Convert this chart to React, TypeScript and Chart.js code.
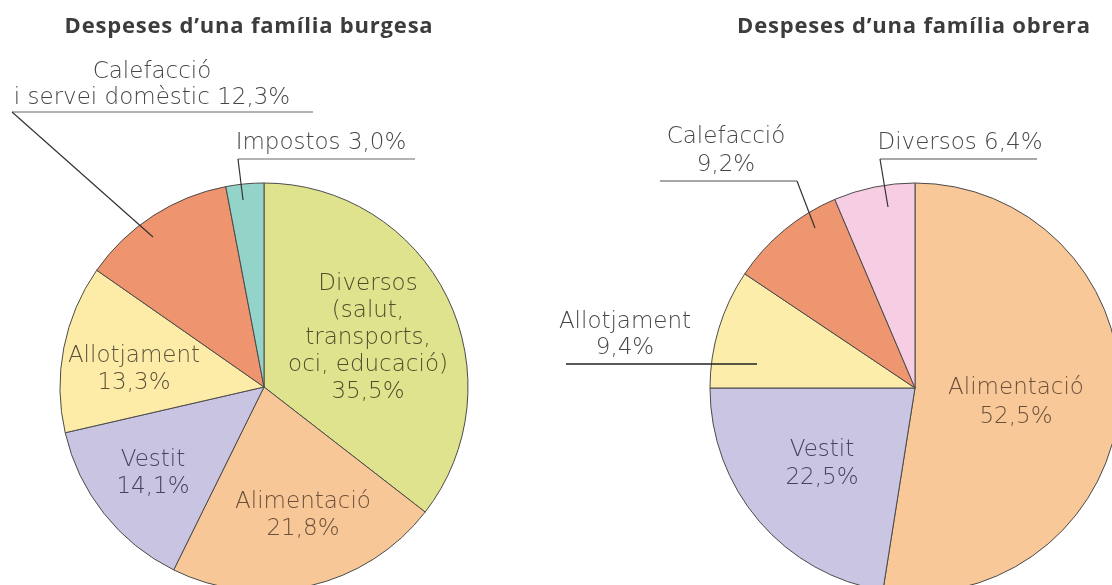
import React, { useEffect, useRef } from "react";
import { Chart, registerables } from "chart.js";

Chart.register(...registerables);

// ---------- DATA ----------
const burgesaTitle = "Despeses d’una família burgesa";
const burgesaLabelLines = [
  ["Diversos", "(salut,", "transports,", "oci, educació)"],
  ["Alimentació"],
  ["Vestit"],
  ["Allotjament"],
  ["Calefacció", "i servei domèstic"],
  ["Impostos"],
];
const burgesaValues = [35.5, 21.8, 14.1, 13.3, 12.3, 3.0];
const burgesaColors = ["#dfe38d", "#f8c797", "#c8c4e2", "#fdeca8", "#ee946f", "#93d3c8"];

const obreraTitle = "Despeses d’una família obrera";
const obreraLabelLines = [
  ["Alimentació"],
  ["Vestit"],
  ["Allotjament"],
  ["Calefacció"],
  ["Diversos"],
];
const obreraValues = [52.5, 22.5, 9.4, 9.2, 6.4];
const obreraColors = ["#f8c898", "#c9c5e2", "#fdedaa", "#ee9670", "#f6cde2"];

// ---------- LABEL LAYOUT (relative to pie centre) ----------
type Note = {
  index: number;
  inline?: boolean;
  dx: number;
  dy: number;
  lh: number;
  color: string;
  underline?: [number, number, number, string];
  leader?: [number, number, number, number];
};

const burgesaNotes: Note[] = [
  { index: 0, dx: 104, dy: -103, lh: 27, color: "#4e4e2c" },
  { index: 1, dx: 39, dy: 115, lh: 27, color: "#6a503a" },
  { index: 2, dx: -111, dy: 73, lh: 27, color: "#47435e" },
  { index: 3, dx: -130, dy: -31, lh: 27, color: "#5a533a" },
  {
    index: 4, inline: true, dx: -112, dy: -315, lh: 26, color: "#474747",
    underline: [-252, 49, -275, "#9a9a9a"], leader: [-252, -275, -111, -150],
  },
  {
    index: 5, inline: true, dx: 57, dy: -244, lh: 26, color: "#474747",
    underline: [-26, 151, -228, "#9a9a9a"], leader: [-26, -228, -21, -187],
  },
];

const obreraNotes: Note[] = [
  { index: 0, dx: 101, dy: 0, lh: 29, color: "#6a503a" },
  { index: 1, dx: -93, dy: 62, lh: 28, color: "#47435e" },
  {
    index: 2, dx: -290, dy: -66, lh: 26, color: "#474747",
    underline: [-349, -158, -24, "#222222"],
  },
  {
    index: 3, dx: -189, dy: -251, lh: 28, color: "#474747",
    underline: [-255, -118, -207, "#8a8a8a"], leader: [-118, -207, -100, -160],
  },
  {
    index: 4, inline: true, dx: 45, dy: -245, lh: 26, color: "#474747",
    underline: [-35, 122, -229, "#8a8a8a"], leader: [-35, -229, -27, -181],
  },
];

const fmt = (v: number) => v.toFixed(1).replace(".", ",") + "%";

const LABEL_FONT = "300 23px 'DejaVu Sans'";
const TITLE_FONT = "bold 22px 'Open Sans'";

const notesPlugin = {
  id: "pieNotes",
  afterDraw(chart: any, _args: any, opts: any) {
    const arc = chart.getDatasetMeta(0).data[0];
    if (!arc) return;
    const cx = arc.x;
    const cy = arc.y;
    const ctx = chart.ctx as CanvasRenderingContext2D;
    const values: number[] = chart.data.datasets[0].data;
    ctx.save();
    ctx.textAlign = "center";
    ctx.textBaseline = "middle";
    ctx.font = TITLE_FONT;
    (ctx as any).letterSpacing = "0.8px";
    ctx.fillStyle = "#3c3c3c";
    ctx.fillText(opts.title, cx + opts.titleDx, cy + opts.titleDy);
    (ctx as any).letterSpacing = "0px";

    ctx.font = LABEL_FONT;
    for (const n of opts.notes as Note[]) {
      const base = opts.labelLines[n.index] as string[];
      const lines = n.inline
        ? [...base.slice(0, -1), base[base.length - 1] + " " + fmt(values[n.index])]
        : [...base, fmt(values[n.index])];
      ctx.fillStyle = n.color;
      lines.forEach((t, i) => ctx.fillText(t, cx + n.dx, cy + n.dy + i * n.lh));
      if (n.underline) {
        const [x1, x2, y, col] = n.underline;
        ctx.strokeStyle = col;
        ctx.lineWidth = 1.5;
        ctx.beginPath();
        ctx.moveTo(cx + x1, cy + y);
        ctx.lineTo(cx + x2, cy + y);
        ctx.stroke();
      }
      if (n.leader) {
        const [x1, y1, x2, y2] = n.leader;
        ctx.strokeStyle = "#333333";
        ctx.lineWidth = 1.2;
        ctx.beginPath();
        ctx.moveTo(cx + x1, cy + y1);
        ctx.lineTo(cx + x2, cy + y2);
        ctx.stroke();
      }
    }
    ctx.restore();
  },
};

function PieCanvas(props: {
  left: number;
  width: number;
  height: number;
  padding: { left: number; right: number; top: number; bottom: number };
  values: number[];
  colors: string[];
  labelLines: string[][];
  notes: Note[];
  title: string;
  titleDx: number;
  titleDy: number;
}) {
  const ref = useRef<HTMLCanvasElement | null>(null);
  useEffect(() => {
    if (!ref.current) return;
    const chart = new Chart(ref.current, {
      type: "pie",
      data: {
        labels: props.labelLines.map((l) => l.join(" ")),
        datasets: [
          {
            data: props.values,
            backgroundColor: props.colors,
            borderColor: "#4a4a4a",
            borderWidth: 1,
          },
        ],
      },
      options: {
        responsive: false,
        animation: false,
        devicePixelRatio: 1,
        layout: { padding: props.padding },
        plugins: {
          legend: { display: false },
          tooltip: { enabled: false },
          pieNotes: {
            title: props.title,
            titleDx: props.titleDx,
            titleDy: props.titleDy,
            notes: props.notes,
            labelLines: props.labelLines,
          },
        } as any,
      },
      plugins: [notesPlugin],
    });
    return () => chart.destroy();
  }, []);
  return (
    <canvas
      ref={ref}
      width={props.width}
      height={props.height}
      style={{ position: "absolute", left: props.left, top: 0, width: props.width, height: props.height }}
    />
  );
}

export default function App() {
  return (
    <div
      style={{
        position: "fixed",
        left: 0,
        top: 0,
        width: 1112,
        height: 585,
        overflow: "hidden",
        background: "#ffffff",
      }}
    >
      <PieCanvas
        left={0}
        width={530}
        height={620}
        padding={{ left: 59.5, right: 61.5, top: 182.5, bottom: 28.5 }}
        values={burgesaValues}
        colors={burgesaColors}
        labelLines={burgesaLabelLines}
        notes={burgesaNotes}
        title={burgesaTitle}
        titleDx={-15}
        titleDy={-360}
      />
      <PieCanvas
        left={540}
        width={760}
        height={620}
        padding={{ left: 169.5, right: 179.5, top: 182.5, bottom: 26.5 }}
        values={obreraValues}
        colors={obreraColors}
        labelLines={obreraLabelLines}
        notes={obreraNotes}
        title={obreraTitle}
        titleDx={-1}
        titleDy={-361}
      />
    </div>
  );
}
